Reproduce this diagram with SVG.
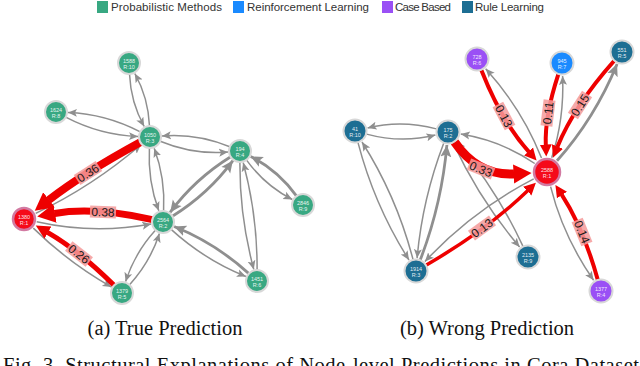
<svg xmlns="http://www.w3.org/2000/svg" width="640" height="366" viewBox="0 0 640 366">
<style>
.g{fill:none;stroke:#8f8f8f;stroke-width:1.5}
.gt{fill:none;stroke:#8f8f8f;stroke-width:2.8}
.r{fill:none;stroke:#ee0000}
.lb{fill:#f59a9a;fill-opacity:0.85}
.lt{font-family:"Liberation Sans",Arial,sans-serif;font-size:12px;fill:#1a1a1a;text-anchor:middle}
.nd{stroke:#d8d8d8;stroke-width:2}
.nt{font-family:"Liberation Sans",Arial,sans-serif;font-size:5.5px;fill:#ffffff;fill-opacity:0.9;text-anchor:middle}
.pm{fill:#38a882}.rl{fill:#1a8aff}.cb{fill:#9a50f5}.ru{fill:#1d6e93}
.red{fill:#f50a1a;stroke:#d27aa2;stroke-width:2.5}
.lg{font-family:"Liberation Sans",Arial,sans-serif;font-size:11.5px;fill:#333}
.cap{font-family:"Liberation Serif","Times New Roman",serif;font-size:20.5px;fill:#111}
</style>
<defs>
<marker id="ga" markerUnits="userSpaceOnUse" viewBox="0 -6 12 12" markerWidth="12" markerHeight="12" refX="9" refY="0" orient="auto"><path d="M0,-4 L9,0 L0,4 L2,0 z" fill="#8f8f8f"/></marker>
<marker id="gb" markerUnits="userSpaceOnUse" viewBox="0 -7 14 14" markerWidth="14" markerHeight="14" refX="12" refY="0" orient="auto"><path d="M0,-5.5 L12,0 L0,5.5 L2.5,0 z" fill="#8f8f8f"/></marker>
<marker id="rs" markerUnits="userSpaceOnUse" viewBox="0 -7 13 14" markerWidth="13" markerHeight="14" refX="0.5" refY="0" orient="auto"><path d="M0,-6 L12,0 L0,6 z" fill="#ee0000"/></marker>
<marker id="rm" markerUnits="userSpaceOnUse" viewBox="0 -8 15 16" markerWidth="15" markerHeight="16" refX="0.5" refY="0" orient="auto"><path d="M0,-7 L14,0 L0,7 z" fill="#ee0000"/></marker>
<marker id="rl" markerUnits="userSpaceOnUse" viewBox="0 -10 19 20" markerWidth="19" markerHeight="20" refX="0.5" refY="0" orient="auto"><path d="M0,-9.5 L18,0 L0,9.5 z" fill="#ee0000"/></marker>
</defs>
<rect width="640" height="366" fill="#ffffff"/>

<g id="legend">
<rect x="97" y="1" width="11" height="12" class="pm"/>
<text x="111" y="11" class="lg" textLength="111">Probabilistic Methods</text>
<rect x="233" y="1" width="11" height="12" class="rl"/>
<text x="247" y="11" class="lg" textLength="122">Reinforcement Learning</text>
<rect x="382" y="1" width="11" height="12" class="cb"/>
<text x="395" y="11" class="lg" textLength="56">Case Based</text>
<rect x="462" y="1" width="11" height="12" class="ru"/>
<text x="475" y="11" class="lg" textLength="69">Rule Learning</text>
</g>

<g id="connectors">
<g id="gray-a">
<path class="g" marker-end="url(#ga)" d="M149.5,126 Q148.2,97.5 134.8,73.5"/>
<path class="g" marker-end="url(#ga)" d="M129.5,74 Q130.8,102.5 144.2,126.5"/>
<path class="g" marker-end="url(#ga)" d="M140.3,131.9 Q105.8,113.9 68,112.5"/>
<path class="g" marker-end="url(#ga)" d="M65.7,117.1 Q100.2,135.1 138,136.5"/>
<path class="g" marker-end="url(#ga)" d="M160.2,141.2 Q193.3,154.9 228,152"/>
<path class="g" marker-end="url(#ga)" d="M229.8,146.8 Q196.7,133.1 162,136"/>
<path class="g" marker-end="url(#ga)" d="M149.4,148 Q147.6,180.9 158.8,210.8"/>
<path class="g" marker-end="url(#ga)" d="M163.6,211 Q165.4,178.1 154.2,148.2"/>
<path class="gt" marker-end="url(#gb)" d="M230.7,156.8 Q194.7,179.2 170.1,212.4"/>
<path class="gt" marker-end="url(#gb)" d="M172.4,216.2 Q208.3,193.9 232.9,160.6"/>
<path class="g" marker-end="url(#ga)" d="M246.4,159.9 Q265,185.6 292.3,199.5"/>
<path class="gt" marker-end="url(#gb)" d="M296.6,196.1 Q278,170.4 250.7,156.4"/>
<path class="g" marker-end="url(#ga)" d="M239.9,162 Q239.6,217.2 253.8,269.4"/>
<path class="g" marker-end="url(#ga)" d="M257.1,270 Q257.4,214.8 243.2,162.6"/>
<path class="g" marker-end="url(#ga)" d="M171.1,229.4 Q204.7,260 245.9,276.5"/>
<path class="gt" marker-end="url(#gb)" d="M248.9,273.6 Q215.3,243 174.1,226.5"/>
<path class="g" marker-end="url(#ga)" d="M155.6,230.1 Q134.7,253 125.6,281.6"/>
<path class="g" marker-end="url(#ga)" d="M129.4,284.9 Q150.3,262 159.4,233.4"/>
<path class="g" marker-end="url(#ga)" d="M35.7,213.4 Q92.5,186.4 140.9,144.8"/>
<path class="g" marker-end="url(#ga)" d="M36.7,221.8 Q93.2,234.5 151.2,224.1"/>
<path class="g" marker-end="url(#ga)" d="M33.3,228.1 Q68.2,262.4 111.6,287.1"/>
</g>
<g id="gray-b">
<path class="g" marker-end="url(#ga)" d="M366.6,134.1 Q401.4,143.5 435.4,135.1"/>
<path class="g" marker-end="url(#ga)" d="M436.4,128.9 Q401.6,119.5 367.6,127.9"/>
<path class="g" marker-end="url(#ga)" d="M358,142.6 Q374.5,205.8 409,260"/>
<path class="g" marker-end="url(#ga)" d="M413,259.4 Q396.5,196.2 362,142"/>
<path class="g" stroke-width="2" marker-end="url(#ga)" d="M443.7,143.2 Q422.3,199.3 417.1,258.1"/>
<path class="gt" marker-end="url(#gb)" d="M420.3,259.8 Q441.8,203.7 446.9,145"/>
<path class="g" marker-end="url(#ga)" d="M453.1,142.9 Q479.6,199.9 519.6,247.1"/>
<path class="g" marker-end="url(#ga)" d="M522.9,246.1 Q496.4,189.1 456.4,141.9"/>
<path class="g" marker-end="url(#ga)" d="M534.7,163.5 Q502,140.9 460.8,134.1"/>
<path class="g" marker-end="url(#ga)" d="M533.7,178.9 Q473.1,210.3 424.9,261.5"/>
<path class="g" marker-end="url(#ga)" d="M550.6,186.6 Q563.1,236.5 593.6,280.3"/>
<path class="g" marker-end="url(#ga)" d="M541.5,158 Q522.2,109.2 485.7,68.7"/>
<path class="g" marker-end="url(#ga)" d="M551.7,157.8 Q564.4,118.9 562.6,76"/>
<path class="gt" marker-end="url(#gb)" d="M557,160.8 Q594.7,118.4 617.1,64"/>
</g>
<g id="red">
<path class="r" stroke-width="8" marker-end="url(#rl)" d="M140.3,142.2 Q83.7,173 48.6,200.1"/>
<path class="r" stroke-width="7" marker-end="url(#rl)" d="M152.3,219.6 Q93.8,206.5 54.5,213.5"/>
<path class="r" stroke-width="5" marker-end="url(#rm)" d="M114.1,285.3 Q77.8,249.6 47.5,232.3"/>
<path class="r" stroke-width="4" marker-end="url(#rs)" d="M481.4,70.2 Q501.8,121.8 528.9,151.9"/>
<path class="r" stroke-width="4" marker-end="url(#rs)" d="M558.3,74.4 Q544.6,116.1 545.8,145"/>
<path class="r" stroke-width="4" marker-end="url(#rs)" d="M614,61 Q574.3,105.6 557.3,147"/>
<path class="r" stroke-width="9" marker-end="url(#rl)" d="M454.6,142 Q478,176 514.1,173.9"/>
<path class="r" stroke-width="3.5" marker-end="url(#rs)" d="M426.4,265 Q487.5,229.5 527.6,190.8"/>
<path class="r" stroke-width="4" marker-end="url(#rs)" d="M597.7,279.5 Q583.1,227.4 561.7,194.6"/>
</g>
<g id="edge-labels">
<g transform="translate(88,173) rotate(-33)"><rect class="lb" x="-13" y="-6" width="26" height="12"/><text class="lt" y="4.3">0.36</text></g>
<g transform="translate(103,212) rotate(2)"><rect class="lb" x="-13" y="-6" width="26" height="12"/><text class="lt" y="4.3">0.38</text></g>
<g transform="translate(79,254) rotate(38)"><rect class="lb" x="-13" y="-6" width="26" height="12"/><text class="lt" y="4.3">0.26</text></g>
<g transform="translate(504,116) rotate(62)"><rect class="lb" x="-13" y="-6" width="26" height="12"/><text class="lt" y="4.3">0.13</text></g>
<g transform="translate(548,113) rotate(-83)"><rect class="lb" x="-13" y="-6" width="26" height="12"/><text class="lt" y="4.3">0.11</text></g>
<g transform="translate(580,105) rotate(-57)"><rect class="lb" x="-13" y="-6" width="26" height="12"/><text class="lt" y="4.3">0.15</text></g>
<g transform="translate(481,169) rotate(22)"><rect class="lb" x="-13" y="-6" width="26" height="12"/><text class="lt" y="4.3">0.33</text></g>
<g transform="translate(482,228) rotate(-36)"><rect class="lb" x="-13" y="-6" width="26" height="12"/><text class="lt" y="4.3">0.13</text></g>
<g transform="translate(582,232) rotate(68)"><rect class="lb" x="-13" y="-6" width="26" height="12"/><text class="lt" y="4.3">0.14</text></g>
</g>
</g>

<g id="n1588"><circle cx="129" cy="63" r="11" class="nd pm"/><text class="nt" x="129" y="62.5">1588</text><text class="nt" x="129" y="68.5">R:10</text></g>
<g id="n1624"><circle cx="56" cy="112" r="11" class="nd pm"/><text class="nt" x="56" y="111.5">1624</text><text class="nt" x="56" y="117.5">R:8</text></g>
<g id="n1050"><circle cx="150" cy="137" r="11" class="nd pm"/><text class="nt" x="150" y="136.5">1050</text><text class="nt" x="150" y="142.5">R:3</text></g>
<g id="n194"><circle cx="240" cy="151" r="11" class="nd pm"/><text class="nt" x="240" y="150.5">194</text><text class="nt" x="240" y="156.5">R:4</text></g>
<g id="n2846"><circle cx="303" cy="205" r="11" class="nd pm"/><text class="nt" x="303" y="204.5">2846</text><text class="nt" x="303" y="210.5">R:9</text></g>
<g id="n2564"><circle cx="163" cy="222" r="11" class="nd pm"/><text class="nt" x="163" y="221.5">2564</text><text class="nt" x="163" y="227.5">R:2</text></g>
<g id="n1451"><circle cx="257" cy="281" r="11" class="nd pm"/><text class="nt" x="257" y="280.5">1451</text><text class="nt" x="257" y="286.5">R:6</text></g>
<g id="n1379"><circle cx="122" cy="293" r="11" class="nd pm"/><text class="nt" x="122" y="292.5">1379</text><text class="nt" x="122" y="298.5">R:5</text></g>
<g id="n1380"><circle cx="24" cy="219" r="11" class="red"/><text class="nt" x="24" y="218.5">1380</text><text class="nt" x="24" y="224.5">R:1</text></g>

<g id="n728"><circle cx="477" cy="59" r="11.5" class="nd cb"/><text class="nt" x="477" y="58.5">728</text><text class="nt" x="477" y="64.5">R:6</text></g>
<g id="n945"><circle cx="562" cy="63" r="11.5" class="nd rl"/><text class="nt" x="562" y="62.5">945</text><text class="nt" x="562" y="68.5">R:7</text></g>
<g id="n551"><circle cx="622" cy="52" r="11.5" class="nd ru"/><text class="nt" x="622" y="51.5">551</text><text class="nt" x="622" y="57.5">R:5</text></g>
<g id="n41"><circle cx="355" cy="131" r="11.5" class="nd ru"/><text class="nt" x="355" y="130.5">41</text><text class="nt" x="355" y="136.5">R:10</text></g>
<g id="n175"><circle cx="448" cy="132" r="11.5" class="nd ru"/><text class="nt" x="448" y="131.5">175</text><text class="nt" x="448" y="137.5">R:2</text></g>
<g id="n2588"><circle cx="547" cy="172" r="13" class="red" stroke-width="3"/><text class="nt" x="547" y="171.5">2588</text><text class="nt" x="547" y="177.5">R:1</text></g>
<g id="n1914"><circle cx="416" cy="271" r="11.5" class="nd ru"/><text class="nt" x="416" y="270.5">1914</text><text class="nt" x="416" y="276.5">R:3</text></g>
<g id="n2135"><circle cx="528" cy="257" r="11.5" class="nd ru"/><text class="nt" x="528" y="256.5">2135</text><text class="nt" x="528" y="262.5">R:9</text></g>
<g id="n1377"><circle cx="601" cy="291" r="11.5" class="nd cb"/><text class="nt" x="601" y="290.5">1377</text><text class="nt" x="601" y="296.5">R:4</text></g>

<g id="captions">
<text class="cap" x="165" y="335" text-anchor="middle">(a) True Prediction</text>
<text class="cap" x="487" y="335" text-anchor="middle">(b) Wrong Prediction</text>
<text class="cap" x="3" y="372" textLength="636" lengthAdjust="spacing">Fig. 3.  Structural Explanations of Node-level Predictions in Cora Dataset</text>
</g>
</svg>
